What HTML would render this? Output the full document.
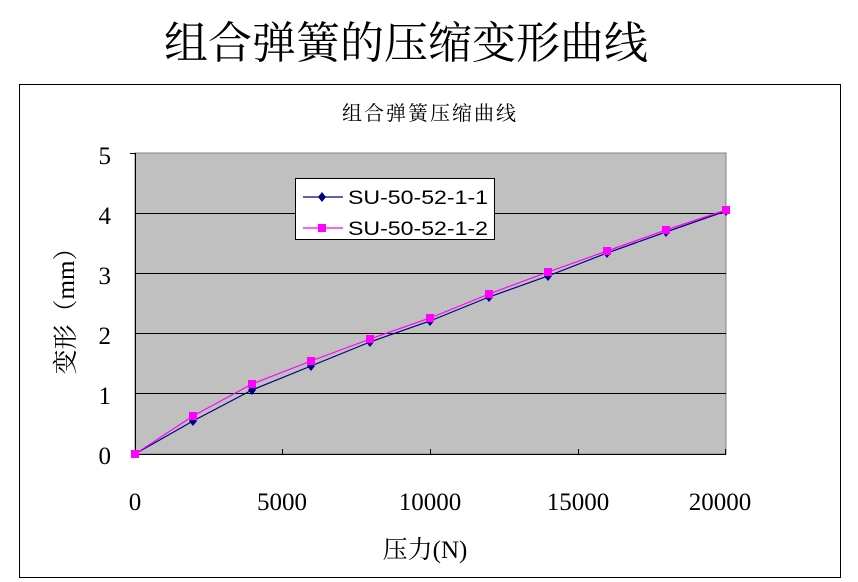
<!DOCTYPE html>
<html><head><meta charset="utf-8"><style>
body{margin:0;background:#fff;}
svg{display:block;}
</style></head><body>
<svg width="858" height="582" xmlns="http://www.w3.org/2000/svg">
<rect width="858" height="582" fill="#fff"/>
<text x="406" y="58" text-anchor="middle" font-family="'Liberation Serif','Noto Serif CJK SC',serif" font-size="44" fill="#000">组合弹簧的压缩变形曲线</text>
<rect x="19.5" y="84.5" width="821" height="493" fill="#fff" stroke="#000" stroke-width="1"/>
<text x="430" y="120" text-anchor="middle" font-family="'Liberation Serif','Noto Serif CJK SC',serif" font-size="20" letter-spacing="2" fill="#000">组合弹簧压缩曲线</text>
<rect x="135" y="153" width="591" height="301" fill="#c0c0c0" stroke="#808080" stroke-width="1"/>
<g stroke="#000" stroke-width="1">
<line x1="135" y1="213.5" x2="726" y2="213.5"/>
<line x1="135" y1="273.5" x2="726" y2="273.5"/>
<line x1="135" y1="333.5" x2="726" y2="333.5"/>
<line x1="135" y1="393.5" x2="726" y2="393.5"/>
<line x1="135.5" y1="153" x2="135.5" y2="454"/>
<line x1="135" y1="454.5" x2="726" y2="454.5"/>
<line x1="130" y1="153.5" x2="135" y2="153.5"/>
<line x1="282.5" y1="449" x2="282.5" y2="454"/>
<line x1="430.5" y1="449" x2="430.5" y2="454"/>
<line x1="578.5" y1="449" x2="578.5" y2="454"/>
<line x1="725.5" y1="449" x2="725.5" y2="454"/>
</g>
<g font-family="'Liberation Serif',serif" font-size="25" fill="#000" text-anchor="end">
<text x="111" y="164">5</text><text x="111" y="224">4</text><text x="111" y="284">3</text>
<text x="111" y="344">2</text><text x="111" y="404">1</text><text x="111" y="464">0</text>
</g>
<g font-family="'Liberation Serif',serif" font-size="25" fill="#000" text-anchor="middle">
<text x="135" y="510">0</text><text x="282" y="510">5000</text><text x="430" y="510">10000</text>
<text x="578" y="510">15000</text><text x="720" y="510">20000</text>
</g>
<text x="425" y="558" text-anchor="middle" font-family="'Liberation Serif','Noto Serif CJK SC',serif" font-size="25" fill="#000">压力(N)</text>
<text transform="translate(74,305) rotate(-90)" text-anchor="middle" font-family="'Liberation Serif','Noto Serif CJK SC',serif" font-size="25" fill="#000">变形（mm）</text>
<polyline fill="none" stroke="#000080" stroke-width="1.2" points="135,454 193,421 252,390 311,366 370,342 430,321 489,297 548,276 607,253 666,232 726,211"/>
<g fill="#000080">
<path d="M193,416l4,5l-4,5l-4,-5z"/><path d="M252,385l4,5l-4,5l-4,-5z"/><path d="M311,361l4,5l-4,5l-4,-5z"/>
<path d="M370,337l4,5l-4,5l-4,-5z"/><path d="M430,316l4,5l-4,5l-4,-5z"/><path d="M489,292l4,5l-4,5l-4,-5z"/>
<path d="M548,271l4,5l-4,5l-4,-5z"/><path d="M607,248l4,5l-4,5l-4,-5z"/><path d="M666,227l4,5l-4,5l-4,-5z"/>
<path d="M726,206l4,5l-4,5l-4,-5z"/>
</g>
<polyline fill="none" stroke="#ff00ff" stroke-width="1.2" points="135,454 193,416 252,384 311,361 370,339 430,318 489,294 548,272 607,251 666,230 726,210"/>
<g fill="#ff00ff">
<rect x="131" y="450" width="8" height="8"/><rect x="189" y="412" width="8" height="8"/><rect x="248" y="380" width="8" height="8"/>
<rect x="307" y="357" width="8" height="8"/><rect x="366" y="335" width="8" height="8"/><rect x="426" y="314" width="8" height="8"/>
<rect x="485" y="290" width="8" height="8"/><rect x="544" y="268" width="8" height="8"/><rect x="603" y="247" width="8" height="8"/>
<rect x="662" y="226" width="8" height="8"/><rect x="722" y="206" width="8" height="8"/>
</g>
<rect x="295.5" y="178.5" width="199" height="61" fill="#fff" stroke="#000" stroke-width="1"/>
<line x1="303" y1="197" x2="343" y2="197" stroke="#000080" stroke-width="1.2"/>
<path d="M322,192l4,5l-4,5l-4,-5z" fill="#000080"/>
<line x1="303" y1="228" x2="343" y2="228" stroke="#ff00ff" stroke-width="1.2"/>
<rect x="318" y="224" width="8" height="8" fill="#ff00ff"/>
<g font-family="'Liberation Sans',sans-serif" font-size="19" fill="#000">
<text x="348" y="204" textLength="140" lengthAdjust="spacingAndGlyphs">SU-50-52-1-1</text>
<text x="348" y="235" textLength="140" lengthAdjust="spacingAndGlyphs">SU-50-52-1-2</text>
</g>
</svg>
</body></html>
